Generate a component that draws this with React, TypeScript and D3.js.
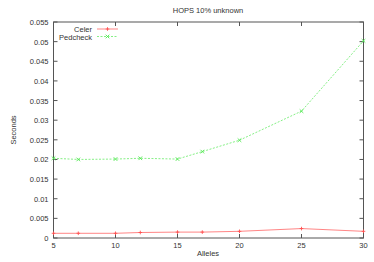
import React, { useRef, useEffect } from "react";
import * as d3 from "d3";

const alleles = [5, 7, 10, 12, 15, 17, 20, 25, 30];
const celer = [0.0012, 0.0012, 0.0012, 0.0014, 0.0015, 0.0015, 0.0017, 0.0024, 0.0017];
const pedcheck = [0.0203, 0.02, 0.0201, 0.0203, 0.0201, 0.022, 0.0249, 0.0323, 0.0502];
const xTicks = [5, 10, 15, 20, 25, 30];
const yTicks = [0, 0.005, 0.01, 0.015, 0.02, 0.025, 0.03, 0.035, 0.04, 0.045, 0.05, 0.055];

const App = () => {
  const ref = useRef(null);
  const width = 374;
  const height = 262;

  useEffect(() => {
    const svg = d3.select(ref.current);
    svg.selectAll("*").remove();
    const font = "'Liberation Sans', Arial, sans-serif";
    const left = 53.5, right = 363.5, top = 22, bottom = 238;

    const x = d3.scaleLinear().domain([5, 30]).range([left, right]);
    const y = d3.scaleLinear().domain([0, 0.055]).range([bottom, top]);

    // ticks, mirrored on all sides (gnuplot style)
    const g = svg.append("g").attr("stroke", "#555").attr("stroke-width", 1);
    xTicks.forEach((t) => {
      g.append("line").attr("x1", x(t)).attr("x2", x(t)).attr("y1", bottom).attr("y2", bottom - 4);
      g.append("line").attr("x1", x(t)).attr("x2", x(t)).attr("y1", top).attr("y2", top + 4);
    });
    yTicks.forEach((t) => {
      g.append("line").attr("x1", left).attr("x2", left + 4).attr("y1", y(t)).attr("y2", y(t));
      g.append("line").attr("x1", right).attr("x2", right - 4).attr("y1", y(t)).attr("y2", y(t));
    });
    g.append("rect")
      .attr("x", left).attr("y", top)
      .attr("width", right - left).attr("height", bottom - top)
      .attr("fill", "none");

    const txt = svg.append("g").attr("font-family", font).attr("font-size", 7.5).attr("fill", "#333");
    xTicks.forEach((t) => {
      txt.append("text").attr("x", x(t)).attr("y", bottom + 10).attr("text-anchor", "middle").text(t);
    });
    yTicks.forEach((t) => {
      txt.append("text").attr("x", left - 5).attr("y", y(t) + 3).attr("text-anchor", "end").text(t);
    });
    txt.append("text").attr("x", 208).attr("y", 13).attr("text-anchor", "middle").text("HOPS 10% unknown");
    txt.append("text").attr("x", 208).attr("y", 256).attr("text-anchor", "middle").text("Alleles");
    txt.append("text")
      .attr("transform", `translate(16, ${(top + bottom) / 2}) rotate(-90)`)
      .attr("text-anchor", "middle").text("Seconds");

    const line = d3.line<number>().x((d, i) => x(alleles[i])).y((d) => y(d));

    const series = [
      { name: "Celer", data: celer, color: "#ff5050", dash: null, mark: "plus" },
      { name: "Pedcheck", data: pedcheck, color: "#50e850", dash: "2,1.5", mark: "cross" },
    ];

    series.forEach((s, si) => {
      svg.append("path")
        .attr("d", line(s.data))
        .attr("fill", "none")
        .attr("stroke", s.color)
        .attr("stroke-width", 0.7)
        .attr("stroke-dasharray", s.dash);
      const pts = svg.append("g").attr("stroke", s.color).attr("stroke-width", 0.9);
      const mark = (px, py) => {
        const r = 1.8;
        if (s.mark === "plus") {
          pts.append("line").attr("x1", px - r).attr("x2", px + r).attr("y1", py).attr("y2", py);
          pts.append("line").attr("x1", px).attr("x2", px).attr("y1", py - r).attr("y2", py + r);
        } else {
          pts.append("line").attr("x1", px - r).attr("x2", px + r).attr("y1", py - r).attr("y2", py + r);
          pts.append("line").attr("x1", px - r).attr("x2", px + r).attr("y1", py + r).attr("y2", py - r);
        }
      };
      s.data.forEach((d, i) => mark(x(alleles[i]), y(d)));

      // legend
      const ly = 29 + si * 7.5;
      txt.append("text").attr("x", 92).attr("y", ly + 3).attr("text-anchor", "end").text(s.name);
      svg.append("line")
        .attr("x1", 97).attr("x2", 118).attr("y1", ly).attr("y2", ly)
        .attr("stroke", s.color).attr("stroke-width", 0.7)
        .attr("stroke-dasharray", s.dash);
      mark(107.5, ly);
    });
  }, []);

  return (
    <svg
      ref={ref}
      width={width}
      height={height}
      style={{ position: "absolute", left: 0, top: 0, background: "#fff" }}
    />
  );
};

export default App;
